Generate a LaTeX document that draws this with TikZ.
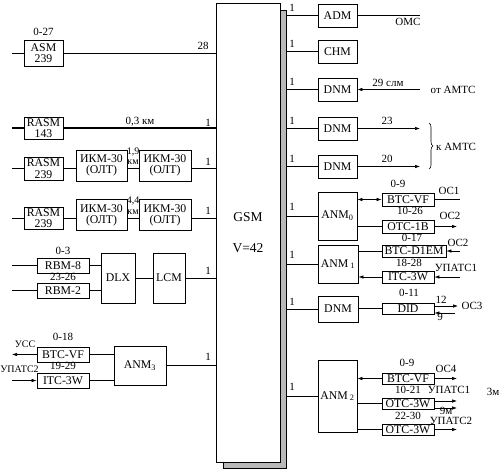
\documentclass[tikz,border=0pt]{standalone}
\usepackage{fontspec}
\setmainfont{Liberation Serif}
\usetikzlibrary{arrows.meta,decorations.pathreplacing}
\newcommand\myfs{\fontsize{11}{11.5}\selectfont}
\newcommand\mybx{\fontsize{11.8}{11.3}\selectfont}
\newcommand\mysm{\fontsize{10}{10}\selectfont}
\begin{document}
\begin{tikzpicture}[x=1pt,y=-1pt,
  box/.style={draw,line width=0.8pt,inner sep=0pt,align=center,font=\mybx,fill=white},
  lbl/.style={inner sep=0pt,font=\myfs},
  sml/.style={inner sep=0pt,font=\mysm},
  ln/.style={line width=0.6pt},
  thk/.style={line width=1.1pt},
  arr/.style={line width=0.6pt,-{Latex[length=5pt,width=3.5pt]}},
  darr/.style={line width=0.6pt,{Latex[length=5pt,width=3.5pt]}-{Latex[length=5pt,width=3.5pt]}}
]
\useasboundingbox (0,0) rectangle (502,472);
% GSM
\node[draw,line width=0.6pt,fill=gray!55,inner sep=0pt,minimum width=63pt,minimum height=458pt] (sh) at (254.5,239) {};
\node[draw,line width=0.8pt,fill=white,inner sep=0pt,minimum width=64pt,minimum height=459pt] (gsm) at (248,232.5) {};
\node[inner sep=0pt,font=\fontsize{13.5}{13.5}\selectfont] (gsmt) at (248,217) {GSM};
\node[inner sep=0pt,font=\fontsize{13.5}{13.5}\selectfont] (gsmv) at (248,248) {V=42};

% ---------- left side ----------
\node[box,minimum width=39pt,minimum height=26pt] (asm) at (43.5,53) {ASM\\239};
\coordinate (inA) at (12,53);
\draw[ln] (inA) -- (asm.west) (asm.east) -- (asm.east -| gsm.west);
\node[lbl] (l027) at (43.5,32) {0-27};
\node[lbl] (l28) at (203,46) {28};

\node[box,minimum width=39pt,minimum height=22pt] (rasm1) at (43.5,128) {RASM\\143};
\coordinate (inB) at (12,128);
\draw[thk] (inB) -- (rasm1.west) (rasm1.east) -- (rasm1.east -| gsm.west);
\node[lbl] (l03) at (140,122) {0,3 км};
\node[lbl] (l1a) at (208,123) {1};

\node[box,minimum width=39pt,minimum height=23pt] (rasm2) at (43.5,168.5) {RASM\\239};
\node[box,minimum width=51pt,minimum height=31pt] (ikm1) at (101.5,165.5) {ИКМ-30\\(ОЛТ)};
\node[box,minimum width=52pt,minimum height=31pt] (ikm2) at (165,165.5) {ИКМ-30\\(ОЛТ)};
\coordinate (inC) at (12,168.5);
\draw[ln] (inC) -- (rasm2.west) (rasm2.east) -- (rasm2.east -| ikm1.west)
  (rasm2.east -| ikm1.east) -- (rasm2.east -| ikm2.west)
  (rasm2.east -| ikm2.east) -- (rasm2.east -| gsm.west);
\node[sml] (l19) at (133,152) {1,9};
\node[sml] (lkm1) at (133,162) {км};
\node[lbl] (l1b) at (208,162) {1};

\node[box,minimum width=39pt,minimum height=22pt] (rasm3) at (43.5,218) {RASM\\239};
\node[box,minimum width=51pt,minimum height=31pt] (ikm3) at (101.5,215) {ИКМ-30\\(ОЛТ)};
\node[box,minimum width=52pt,minimum height=31pt] (ikm4) at (165,215) {ИКМ-30\\(ОЛТ)};
\coordinate (inD) at (12,218);
\draw[ln] (inD) -- (rasm3.west) (rasm3.east) -- (rasm3.east -| ikm3.west)
  (rasm3.east -| ikm3.east) -- (rasm3.east -| ikm4.west)
  (rasm3.east -| ikm4.east) -- (rasm3.east -| gsm.west);
\node[sml] (l44) at (133,201) {4,4};
\node[sml] (lkm2) at (133,212) {км};
\node[lbl] (l1c) at (208,211) {1};

\node[box,minimum width=52pt,minimum height=15pt] (rbm8) at (63,265.5) {RBM-8};
\node[box,minimum width=52pt,minimum height=15pt] (rbm2) at (63,290.5) {RBM-2};
\node[box,minimum width=34pt,minimum height=50pt] (dlx) at (118,278) {DLX};
\node[box,minimum width=32pt,minimum height=50pt] (lcm) at (169,278) {LCM};
\coordinate (inE) at (12,265.5);
\coordinate (inF) at (12,290.5);
\draw[thk] (inE) -- (rbm8.west) (inF) -- (rbm2.west);
\draw[ln] (rbm8.east) -- (rbm8.east -| dlx.west) (rbm2.east) -- (rbm2.east -| dlx.west)
  (dlx.east) -- (lcm.west) (lcm.east) -- (lcm.east -| gsm.west);
\node[lbl] (l0_3) at (63,251) {0-3};
\node[lbl] (l2326) at (63,277) {23-26};
\node[lbl] (l1d) at (208,271) {1};

\node[box,minimum width=52pt,minimum height=15pt] (btcl) at (63,354.5) {BTC-VF};
\node[box,minimum width=52pt,minimum height=15pt] (itcl) at (63,380.5) {ITC-3W};
\node[box,minimum width=52pt,minimum height=39pt] (anm3) at (140,365.5) {ANM\textsubscript{3}};
\coordinate (outG) at (12,354.5);
\coordinate (inH) at (12,380.5);
\draw[arr] (btcl.west) -- (outG);
\draw[arr] (inH) -- (itcl.west);
\draw[ln] (btcl.east) -- (btcl.east -| anm3.west) (itcl.east) -- (itcl.east -| anm3.west)
  (anm3.east) -- (anm3.east -| gsm.west);
\node[lbl] (l018) at (63,337) {0-18};
\node[lbl] (l1929) at (63,366) {19-29};
\node[sml] (lucc) at (25,344) {УСС};
\node[sml] (lupats2l) at (19.5,369) {УПАТС2};
\node[lbl] (l1e) at (208,357) {1};

% ---------- right side ----------
\node[box,minimum width=39pt,minimum height=23pt] (adm) at (337.5,15.5) {ADM};
\coordinate (outA) at (420,15.5);
\draw[ln] (adm.west -| sh.east) -- (adm.west);
\draw[thk] (adm.east) -- (outA);
\node[lbl] (r1a) at (292,8) {1};
\node[lbl] (loms) at (408,22) {ОМС};

\node[box,minimum width=39pt,minimum height=23pt] (chm) at (337.5,51.5) {CHM};
\draw[ln] (chm.west -| sh.east) -- (chm.west);
\node[lbl] (r1b) at (292,44) {1};

\node[box,minimum width=39pt,minimum height=23pt] (dnm1) at (337.5,89.5) {DNM};
\coordinate (inAM) at (420,89.5);
\draw[ln] (dnm1.west -| sh.east) -- (dnm1.west);
\draw[arr] (inAM) -- (dnm1.east);
\node[lbl] (r1c) at (292,82) {1};
\node[lbl] (l29) at (388,83) {29 слм};
\node[lbl] (lotam) at (453,90) {от АМТС};

\node[box,minimum width=39pt,minimum height=23pt] (dnm2) at (337.5,128.5) {DNM};
\coordinate (outK1) at (420,128.5);
\draw[ln] (dnm2.west -| sh.east) -- (dnm2.west);
\draw[arr] (dnm2.east) -- (outK1);
\node[lbl] (r1d) at (292,121) {1};
\node[lbl] (l23) at (387,121) {23};

\node[box,minimum width=39pt,minimum height=23pt] (dnm3) at (337.5,166.5) {DNM};
\coordinate (outK2) at (420,166.5);
\draw[ln] (dnm3.west -| sh.east) -- (dnm3.west);
\draw[arr] (dnm3.east) -- (outK2);
\node[lbl] (r1e) at (292,159) {1};
\node[lbl] (l20) at (387,159) {20};

\coordinate (brT) at (429,123);
\coordinate (brB) at (429,169);
\draw[ln,decorate,decoration={brace,amplitude=4pt}] (brT) -- (brB);
\node[lbl,anchor=west] (lkam) at (436,147) {к АМТС};

% ANM0
\node[box,minimum width=39pt,minimum height=48pt] (anm0) at (337.5,216) {ANM\textsubscript{0}};
\draw[ln] (anm0.west -| sh.east) -- (anm0.west);
\node[lbl] (r1f) at (292,207) {1};
\node[box,minimum width=52pt,minimum height=13pt] (btc0) at (408,199.5) {BTC-VF};
\node[box,minimum width=52pt,minimum height=13pt] (otc0) at (408,226.5) {OTC-1B};
\coordinate (oc1) at (460,199.5);
\coordinate (oc2) at (457,226.5);
\draw[darr] (btc0.west -| anm0.east) -- (btc0.west);
\draw[ln] (btc0.east) -- (oc1);
\draw[ln] (otc0.west -| anm0.east) -- (otc0.west);
\draw[arr] (otc0.east) -- (oc2);
\node[lbl] (l09a) at (398,184) {0-9};
\node[lbl] (l1026) at (410,211) {10-26};
\node[lbl] (loc1) at (449,191) {OC1};
\node[lbl] (loc2a) at (450,216) {OC2};

% ANM1
\node[box,minimum width=40pt,minimum height=38pt] (anm1) at (338,264) {ANM\,\textsubscript{1}};
\draw[ln] (anm1.west -| sh.east) -- (anm1.west);
\node[lbl] (r1g) at (292,255) {1};
\node[box,minimum width=64pt,minimum height=12pt] (btcd) at (414,251) {BTC-D1EM};
\node[box,minimum width=52pt,minimum height=12pt] (itc1) at (408,277) {ITC-3W};
\coordinate (inOC2) at (460,251);
\coordinate (inUP1) at (460,277);
\draw[ln] (btcd.west -| anm1.east) -- (btcd.west);
\draw[arr] (inOC2) -- (btcd.east);
\draw[arr] (itc1.west) -- (itc1.west -| anm1.east);
\draw[arr] (inUP1) -- (itc1.east);
\node[lbl] (l017) at (412,237.5) {0-17};
\node[lbl] (l1828) at (409,263) {18-28};
\node[lbl] (loc2b) at (458,243) {OC2};
\node[lbl] (lup1a) at (456,268) {УПАТС1};

% DNM / DID
\node[box,minimum width=40pt,minimum height=26pt] (dnm4) at (338,309) {DNM};
\draw[ln] (dnm4.west -| sh.east) -- (dnm4.west);
\node[lbl] (r1h) at (292,302) {1};
\node[box,minimum width=52pt,minimum height=11pt] (did) at (408,308.5) {DID};
\coordinate (oc3) at (458,306);
\coordinate (in9) at (455,313);
\draw[ln] (dnm4.east |- did.west) -- (did.west);
\draw[arr] (did.east |- oc3) -- (oc3);
\draw[arr] (in9) -- (did.east |- in9);
\node[lbl] (l011) at (409,293) {0-11};
\node[lbl] (l12) at (441,300) {12};
\node[lbl] (l9) at (440,317) {9};
\node[lbl] (loc3) at (472,306) {OC3};

% ANM2
\node[box,minimum width=39pt,minimum height=72pt] (anm2) at (337.5,396) {ANM\,\textsubscript{2}};
\draw[ln] (anm2.west -| sh.east) -- (anm2.west);
\node[lbl] (r1i) at (292,387) {1};
\node[box,minimum width=52pt,minimum height=11pt] (btc2) at (408,378.5) {BTC-VF};
\node[box,minimum width=52pt,minimum height=11pt] (otc2) at (408,403.5) {OTC-3W};
\node[box,minimum width=52pt,minimum height=11pt] (otc3) at (408,429.5) {OTC-3W};
\coordinate (oc4) at (457,378.5);
\coordinate (up1a) at (457,401);
\coordinate (up1b) at (457,408);
\coordinate (up2) at (457,429.5);
\draw[arr] (btc2.west) -- (btc2.west -| anm2.east);
\draw[arr] (btc2.east) -- (oc4);
\draw[ln] (otc2.west -| anm2.east) -- (otc2.west);
\draw[arr] (otc2.east |- up1a) -- (up1a);
\draw[arr] (otc2.east |- up1b) -- (up1b);
\draw[ln] (otc3.west -| anm2.east) -- (otc3.west);
\draw[arr] (otc3.east) -- (up2);
\node[lbl] (l09b) at (407,363) {0-9};
\node[lbl] (loc4) at (446,369) {OC4};
\node[lbl] (l1021) at (408,390) {10-21};
\node[lbl] (lup1b) at (449,390) {УПАТС1};
\node[lbl] (l3m) at (493,392) {3м};
\node[lbl] (l9m) at (446,411) {9м};
\node[lbl] (l2230) at (408,415.5) {22-30};
\node[lbl] (lup2) at (451,421) {УПАТС2};
\end{tikzpicture}
\end{document}
